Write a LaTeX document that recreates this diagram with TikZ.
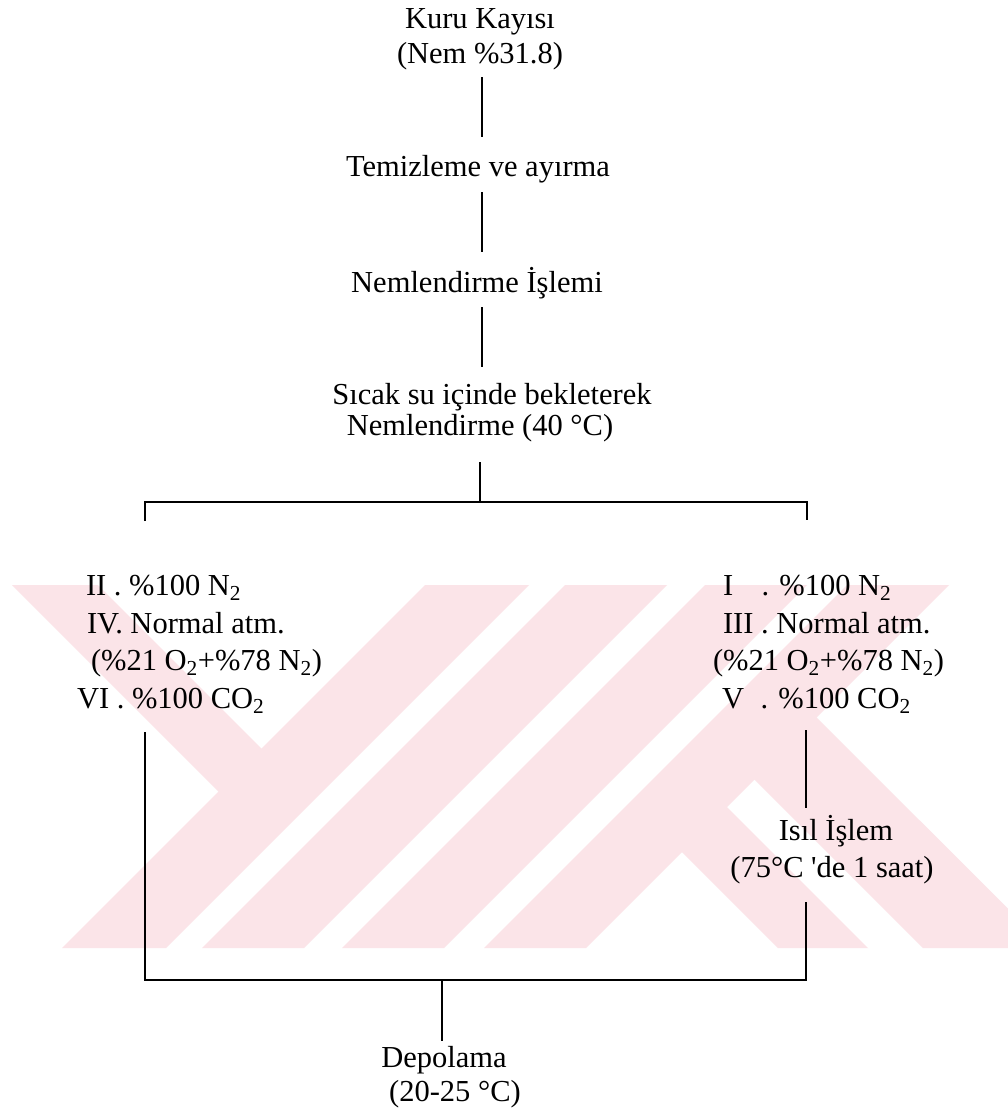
\documentclass[tikz,border=0pt]{standalone}
\usepackage{fontspec}
\setmainfont{Liberation Serif}[Ligatures=TeXOff]
\definecolor{wmpink}{RGB}{251,228,232}
\begin{document}
\begin{tikzpicture}[x=1pt,y=-1pt,
  lbl/.style={inner sep=0pt, outer sep=0pt, text height=21pt, text depth=7pt,
              font=\fontsize{30.5}{36}\selectfont},
  conn/.style={line width=2.6pt, draw=black},
  wm/.style={fill=wmpink, draw=none}]
\useasboundingbox (0,0) rectangle (1008,1117);
\fill[white] (0,0) rectangle (1008,1117);
% watermark
\begin{scope}
  \clip (0,585) rectangle (1008,948);
  \fill[wm] (425,585) -- (529,585) -- (166,948) -- (62,948) -- cycle;
  \fill[wm] (565,585) -- (667,585) -- (304,948) -- (202,948) -- cycle;
  \fill[wm] (705,585) -- (807,585) -- (444,948) -- (342,948) -- cycle;
  \fill[wm] (847,585) -- (949,585) -- (586,948) -- (484,948) -- cycle;
  \fill[wm] (12,585) -- (98,585) -- (286.5,773.5) -- (243.5,816.5) -- cycle;
  \fill[wm] (655,825) -- (700,780) -- (868,948) -- (778,948) -- cycle;
  \fill[wm] (727.5,752.5) -- (789.5,690.5) -- (1047.5,948) -- (923,948) -- cycle;
\end{scope}
% text nodes
\node[lbl, anchor=base] (k1) at (480,28) {Kuru Kayısı};
\node[lbl, anchor=base] (k2) at (480,63) {(Nem \%31.8)};
\node[lbl, anchor=base] (t) at (478,176) {Temizleme ve ayırma};
\node[lbl, anchor=base] (n) at (477,292) {Nemlendirme İşlemi};
\node[lbl, anchor=base] (s1) at (492,404) {Sıcak su içinde bekleterek};
\node[lbl, anchor=base] (s2) at (480,435) {Nemlendirme (40 °C)};
\node[lbl, anchor=base west] (L1) at (86,595) {II . \%100 N\textsubscript{2}};
\node[lbl, anchor=base west] (L2) at (87,633) {IV. Normal atm.};
\node[lbl, anchor=base west] (L3) at (91,670) {(\%21 O\textsubscript{2}+\%78 N\textsubscript{2})};
\node[lbl, anchor=base west] (L4) at (77,708) {VI . \%100 CO\textsubscript{2}};
\node[lbl, anchor=base west] (R1) at (723,595) {\makebox[31pt][l]{I} . \%100 N\textsubscript{2}};
\node[lbl, anchor=base west] (R2) at (723,633) {III . Normal atm.};
\node[lbl, anchor=base west] (R3) at (713,670) {(\%21 O\textsubscript{2}+\%78 N\textsubscript{2})};
\node[lbl, anchor=base west] (R4) at (722,708) {\makebox[31pt][l]{V} . \%100 CO\textsubscript{2}};
\node[lbl, anchor=base] (i1) at (836,840) {Isıl İşlem};
\node[lbl, anchor=base] (i2) at (832,877) {(75°C 'de 1 saat)};
\node[lbl, anchor=base] (d1) at (444,1067) {Depolama};
\node[lbl, anchor=base] (d2) at (455,1101) {(20-25 °C)};
% junction coordinates
\coordinate (tx) at (482,0);
\coordinate (jt) at (480,502);
\coordinate (dl) at (145,521);
\coordinate (dr) at (807,520);
\coordinate (lb) at (145,980);
\coordinate (rb) at (806,980);
\coordinate (mid) at (442,980);
% connectors
\draw[conn, shorten <=7pt, shorten >=18pt] (k2.south -| tx) -- (t.north -| tx);
\draw[conn, shorten <=9pt, shorten >=19pt] (t.south -| tx) -- (n.north -| tx);
\draw[conn, shorten <=8pt, shorten >=16pt] (n.south -| tx) -- (s1.north -| tx);
\draw[conn, shorten <=20pt] (s2.south -| jt) -- (jt);
\draw[conn] (dl) -- (dl |- jt) -- (dr |- jt) -- (dr);
\draw[conn, shorten <=15pt, shorten >=11pt] (R4.south -| rb) -- (i1.north -| rb);
\draw[conn, shorten <=18pt, shorten >=17pt] (i2.south -| rb) -- (rb) -- (lb) -- (L4.south -| lb);
\draw[conn, shorten >=5pt] (mid) -- (d1.north -| mid);
\end{tikzpicture}
\end{document}
